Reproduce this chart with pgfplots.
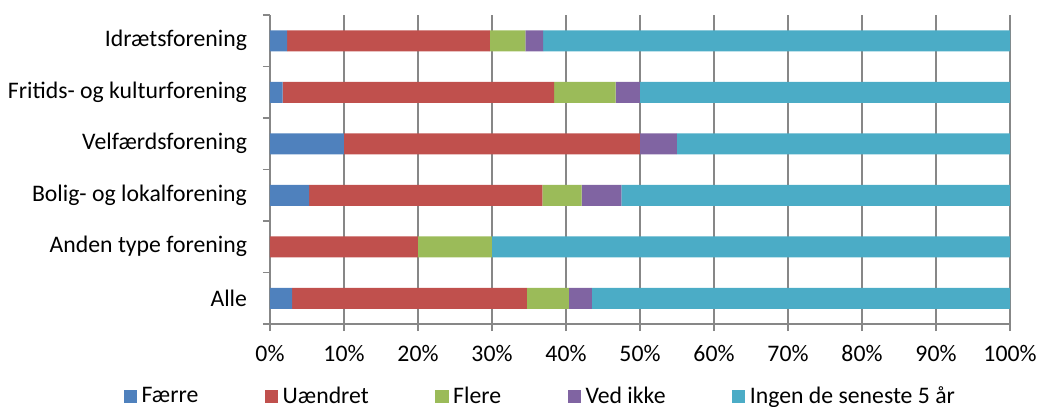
\documentclass[border=0pt]{standalone}
\usepackage{fontspec}
\setmainfont{Carlito}
\usepackage{pgfplots}
\usepackage{pgfplotstable}
\pgfplotsset{compat=1.18}

\definecolor{cFaerre}{HTML}{4F81BD}
\definecolor{cUaendret}{HTML}{C0504D}
\definecolor{cFlere}{HTML}{9BBB59}
\definecolor{cVed}{HTML}{8064A2}
\definecolor{cIngen}{HTML}{4BACC6}
\definecolor{gridgray}{HTML}{878787}

% y: 0 = Alle (bottom) ... 5 = Idraetsforening (top)
\pgfplotstableread{
y faerre uaendret flere ved ingen
0 3.0 31.7 5.7 3.1 56.5
1 0.0 20.0 10.0 0.0 70.0
2 5.3 31.5 5.3 5.4 52.5
3 10.0 40.0 0.0 5.0 45.0
4 1.7 36.7 8.3 3.3 50.0
5 2.3 27.4 4.8 2.4 63.1
}\data

\newcommand{\lbl}{\fontsize{17.8}{20}\selectfont}

\begin{document}
\begin{tikzpicture}
\path[use as bounding box] (-202.5pt,-62.25pt) rectangle (576.75pt,243pt);
\begin{axis}[
  scale only axis,
  width=555pt, height=231.75pt,
  xbar stacked,
  bar width=15.75pt,
  xmin=0, xmax=100,
  ymin=-0.5, ymax=5.5,
  axis x line*=bottom,
  axis y line*=left,
  axis line style={gridgray, line width=0.9pt},
  xtick={0,10,...,100},
  xticklabels={0\%,10\%,20\%,30\%,40\%,50\%,60\%,70\%,80\%,90\%,100\%},
  ytick={0,...,5},
  yticklabels={Alle,Anden type forening,Bolig- og lokalforening,Velfærdsforening,Fritids- og kulturforening,Idrætsforening},
  minor ytick={-0.5,0.5,...,5.5},
  tick align=outside,
  xmajorgrids,
  major grid style={gridgray, line width=0.9pt},
  major x tick style={gridgray, line width=0.9pt},
  minor y tick style={gridgray, line width=0.9pt},
  major y tick style={draw=none},
  major tick length=5.25pt,
  minor tick length=5.25pt,
  yticklabel style={font=\lbl, xshift=-8.5pt},
  xticklabel style={font=\lbl, yshift=-7pt},
  legend style={font=\lbl, draw=none, fill=none,
    at={(0.365,-0.2335)}, anchor=center,
    nodes={inner xsep=1pt},
    /tikz/every odd column/.append style={column sep=2.5pt},
    /tikz/every even column/.append style={column sep=49pt}},
  legend columns=5,
  legend cell align=left,
  legend image code/.code={\fill[#1] (0pt,-4.9pt) rectangle (9.8pt,4.9pt);},
  every axis plot/.append style={draw=none},
]
\addplot[fill=cFaerre] table[x=faerre, y=y] {\data};
\addplot[fill=cUaendret] table[x=uaendret, y=y] {\data};
\addplot[fill=cFlere] table[x=flere, y=y] {\data};
\addplot[fill=cVed] table[x=ved, y=y] {\data};
\addplot[fill=cIngen] table[x=ingen, y=y] {\data};
\legend{Færre,Uændret,Flere,Ved ikke,Ingen de seneste 5 år}
\end{axis}
\end{tikzpicture}
\end{document}
